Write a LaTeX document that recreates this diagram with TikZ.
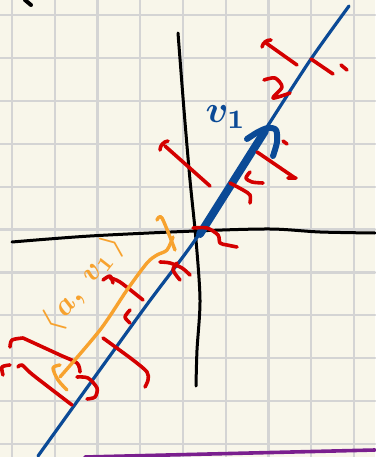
\documentclass[tikz,border=0pt]{standalone}
\usepackage{amsmath}
\usepackage{amssymb}
\usepackage{bm}
\usetikzlibrary{calc}

\definecolor{paper}{HTML}{F8F6EA}
\definecolor{gridgray}{HTML}{D4D4D4}
\definecolor{penblue}{HTML}{0B4A96}
\definecolor{penred}{HTML}{D40000}
\definecolor{penorange}{HTML}{F7A22E}
\definecolor{penpurple}{HTML}{7A1F8E}

\begin{document}
\begin{tikzpicture}[x=1pt,y=-1pt,line cap=round,line join=round]
  \tikzstyle{gridline}=[draw=gridgray,line width=2.2pt]
  \tikzstyle{axisline}=[draw=black,line width=3pt]
  \tikzstyle{blueline}=[draw=penblue,line width=3.2pt]
  \tikzstyle{vecline}=[draw=penblue,line width=8pt]
  \tikzstyle{tick}=[draw=penred,line width=3.6pt]
  \tikzstyle{orangeline}=[draw=penorange,line width=3.4pt]

  % paper and grid
  \fill[paper] (0,0) rectangle (375,457);
  \useasboundingbox (0,0) rectangle (375,457);
  \foreach \i in {0,...,8}
    \draw[gridline] ({12+42.75*\i},0) -- ({12+42.75*\i},457);
  \foreach \j in {0,...,10}
    \draw[gridline] (0,{15+42.9*\j}) -- (375,{15+42.9*\j});

  \coordinate (origin) at (200,234);
  \coordinate (v1tip) at (265,131);

  % axes
  \draw[axisline] plot[smooth] coordinates {(12,242) (90,236) (195,231) (270,229) (320,232) (375,233)};
  \draw[axisline] plot[smooth] coordinates {(178,33) (184,110) (190,180) (196,240) (200,300) (197,350) (196,386)};
  \draw[axisline,line width=4pt] (25,0) -- (31,5);

  % line through the origin
  \draw[blueline] plot[smooth] coordinates {(38,456) (143,310) (200,233) (267,127) (311,59) (349,6)};

  % vector v1
  \draw[vecline] (origin) -- (v1tip);
  \draw[vecline,line width=6pt] plot[smooth] coordinates {(247,139) (258,132) (268,128) (276,130) (277,142) (273,156)};
  \node[text=penblue,scale=3.8] (v1label) at (226,117) {$\bm{v}_{\bm{1}}$};

  % red marks
  \draw[tick] (262,47) to[bend left=40] (271,40) (266,43) -- (297,65);
  \draw[tick] (311,59) -- (333,74) (341,65) -- (347,70);
  \draw[tick] plot[smooth] coordinates {(264,80) (275,78) (282,87) (273,98) (290,93)};
  \draw[tick] (283,141) -- (287,144);
  \draw[tick] (160,150) to[bend left=40] (168,141) (165,146) -- (210,186);
  \draw[tick] (257,152) -- (295,178) (288,178) -- (296,178);
  \draw[tick] plot[smooth] coordinates {(230,183) (243,190) (250,195) (250,203)};
  \draw[tick] plot[smooth] coordinates {(250,172) (246,178) (252,182) (263,183)};
  \draw[tick] plot[smooth] coordinates {(193,228) (207,228) (218,235) (220,243) (227,245) (237,247)};
  \draw[tick] plot[smooth] coordinates {(160,262) (170,263) (182,268) (190,275)};
  \draw[tick] plot[smooth] coordinates {(177,263) (173,270) (180,280)};
  \draw[tick] plot[smooth] coordinates {(103,280) (110,276) (113,283)};
  \draw[tick] plot[smooth] coordinates {(110,278) (120,282) (143,300)};
  \draw[tick] plot[smooth] coordinates {(130,310) (125,317) (130,323)};
  \draw[tick] plot[smooth] coordinates {(103,338) (133,360) (147,372) (148,380) (145,387)};
  \draw[tick] plot[smooth] coordinates {(10,347) (12,340) (23,338)};
  \draw[tick] plot[smooth] coordinates {(23,338) (60,355) (77,363) (80,372)};
  \draw[tick] plot[smooth] coordinates {(18,367) (22,365) (33,375) (72,405)};
  \draw[tick] plot[smooth] coordinates {(10,365) (2,367) (3,375)};
  \draw[tick] plot[smooth] coordinates {(77,377) (88,378) (97,388) (95,397) (87,399)};

  % projection of a
  \draw[orangeline] plot[smooth] coordinates {(60,377) (100,330) (127,290) (147,263) (157,255) (167,250) (173,237)};
  \draw[orangeline] plot[smooth] coordinates {(157,220) (162,218) (175,250)};
  \draw[orangeline] plot[smooth] coordinates {(60,365) (53,368) (58,380) (67,390)};
  \node[text=penorange,scale=3,rotate=52] (proj) at (83,284) {$\bm{\langle\, a,\ v_{1} \,\rangle}$};

  % purple stroke at the bottom
  \draw[draw=penpurple,line width=3.6pt] (85,457) -- (375,450);
\end{tikzpicture}
\end{document}
